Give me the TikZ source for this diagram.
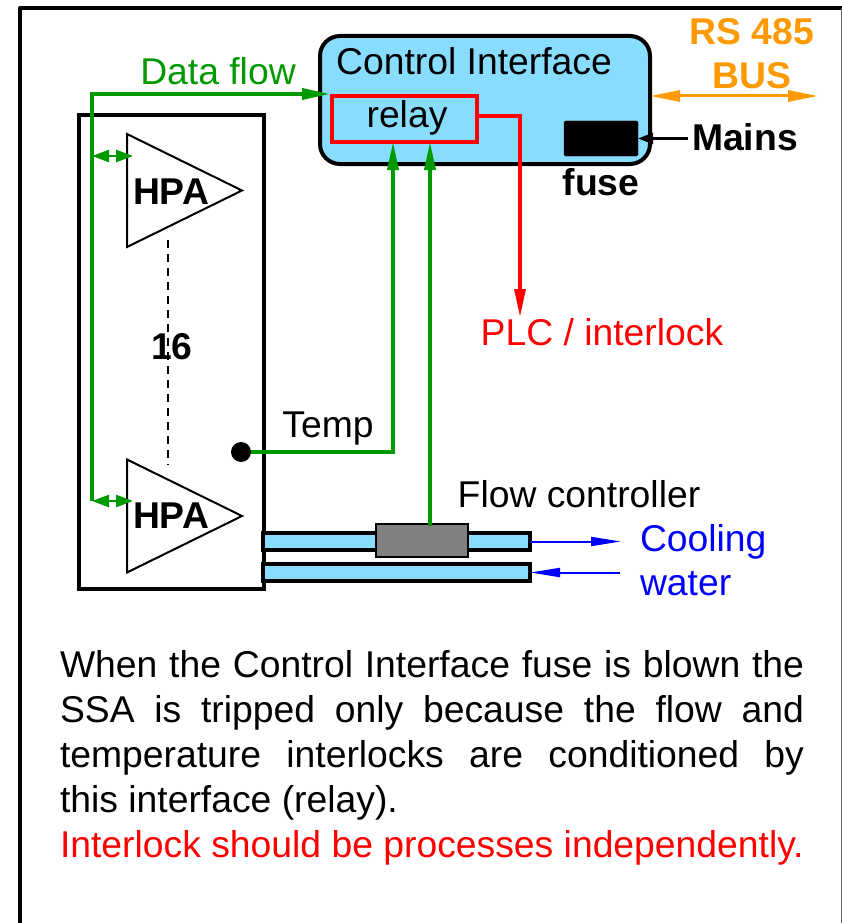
\documentclass[tikz,border=0pt]{standalone}
\usepackage{fontspec}
\setmainfont{Liberation Sans}
\usetikzlibrary{arrows.meta,shapes.geometric}
\definecolor{skyfill}{HTML}{88DDFF}
\definecolor{dgreen}{HTML}{009900}
\definecolor{orng}{HTML}{FF9900}
\definecolor{pipegrey}{HTML}{808080}
\newcommand{\fs}{\fontsize{37.3}{45}\selectfont}
\newcommand{\fsb}{\fontsize{37.3}{45}\selectfont\bfseries}
\newcommand{\jline}[1]{\makebox[744pt][s]{#1}}
\tikzset{
  x=1pt,y=-1pt,
  lbl/.style={inner sep=0pt,outer sep=0pt,anchor=base,font=\fs},
  blbl/.style={lbl,font=\fsb},
  boxn/.style={draw,inner sep=0pt,outer sep=0pt,anchor=north west},
  amp/.style={draw,line width=2pt,fill=white,shape=isosceles triangle,isosceles triangle stretches,
     shape border rotate=0,minimum width=113pt,minimum height=115pt,inner sep=0pt,outer sep=0pt,anchor=lower side},
  gline/.style={draw=dgreen,line width=3.5pt},
  garrow/.style={gline,-{Triangle[length=28pt,width=11pt]}},
  gdouble/.style={draw=dgreen,line width=2.5pt,{Triangle[length=17pt,width=12pt]}-{Triangle[length=17pt,width=12pt]}},
  pipe/.style={boxn,fill=skyfill,line width=4pt,minimum height=17pt},
  barrow/.style={draw=blue,line width=2pt,-{Triangle[length=30pt,width=9pt]}},
}
\begin{document}
\begin{tikzpicture}
\useasboundingbox (0,0) rectangle (842,923);
% outer frame
\draw[line width=4pt,line join=round] (19.5,923) -- (19.5,8.5) -- (842,8.5);
\draw[line width=1.2pt,draw=black!60] (841.4,8) -- (841.4,923);
% HPA housing
\node[boxn,line width=4pt,minimum width=185pt,minimum height=474pt] (rack) at (79,115) {};
\node[amp] (hpaA) at (127,190.5) {};
\node[amp] (hpaB) at (127,516) {};
\node[blbl] (hpaAt) at (171,204) {HPA};
\node[blbl] (hpaBt) at (171,528) {HPA};
% dashed link between amplifiers
\coordinate (dashA) at (168,240);
\coordinate (dashB) at (168,465);
\draw[line width=1.5pt,dash pattern=on 8pt off 6pt] (dashA) -- (dashB);
\node[blbl] (count) at (172,359) {16};
% control interface
\node[boxn,fill=skyfill,line width=4pt,rounded corners=20pt,minimum width=330pt,minimum height=128pt] (ci) at (320,36) {};
\node[lbl] (cit) at (474,75) {Control Interface};
\node[boxn,draw=red,line width=4pt,minimum width=145pt,minimum height=46pt] (relay) at (332,96) {};
\node[lbl] (relayt) at (407,128) {relay};
\node[boxn,fill=black,rounded corners=1.5pt,minimum width=74pt,minimum height=35pt] (fuse) at (564,121) {};
\node[blbl] (fuset) at (601,195) {fuse};
\node[blbl] (mains) at (745,150) {Mains};
% bus
\node[blbl,text=orng] (rs) at (752,45) {RS 485};
\node[blbl,text=orng] (bus) at (752,89) {BUS};
\coordinate (busL) at (650,96);
\coordinate (busR) at (818,96);
\draw[draw=orng,line width=3pt,{Triangle[length=30pt,width=11pt]}-{Triangle[length=30pt,width=11pt]}] (busL) -- (busR);
% mains arrow
\coordinate (mainsEnd) at (688,138.5);
\draw[line width=3pt,-{Triangle[length=15pt,width=11pt]}] (mainsEnd) -- (fuse.east);
% data flow
\node[lbl,text=dgreen] (dataflow) at (218,85) {Data flow};
\coordinate (busBottom) at (92,501);
\coordinate (ciIn) at (330,94);
\draw[garrow] (busBottom) -- (92,94) -- (ciIn);
\coordinate (tapA) at (92,156);
\coordinate (tapAe) at (133,156);
\coordinate (tapB) at (92,501);
\coordinate (tapBe) at (133,501);
\draw[gdouble] (tapA) -- (tapAe);
\draw[gdouble] (tapB) -- (tapBe);
% temperature
\node[circle,fill=black,inner sep=0pt,outer sep=0pt,minimum size=20pt] (sensor) at (241,452) {};
\node[lbl] (temp) at (328,437) {Temp};
\coordinate (relayT) at (393,142);
\draw[garrow] (sensor.east) -- (393,452) -- (relayT);
% pipes
\node[pipe,minimum width=267pt] (pipeA) at (263,533) {};
\node[pipe,minimum width=267pt] (pipeB) at (263,564) {};
\node[boxn,fill=pipegrey,line width=2.5pt,minimum width=92pt,minimum height=33pt] (flowc) at (376,524) {};
\node[lbl] (flowt) at (579,507) {Flow controller};
\coordinate (relayF) at (430,142);
\coordinate (flowTop) at (430,526);
\draw[garrow] (flowTop) -- (relayF);
% plc
\node[lbl,text=red] (plc) at (602,345) {PLC / interlock};
\coordinate (plcIn) at (520,317);
\coordinate (relayOut) at (477,116);
\draw[draw=red,line width=3.5pt,-{Triangle[length=28pt,width=11pt]}] (relayOut) -- (520,116) -- (plcIn);
% cooling
\node[lbl,text=blue,anchor=base west] (cool) at (640,551) {Cooling};
\node[lbl,text=blue,anchor=base west] (water) at (640,595) {water};
\coordinate (coolOut) at (621,541.5);
\coordinate (coolIn) at (620,572.5);
\draw[barrow] (pipeA.east) -- (coolOut);
\draw[barrow] (coolIn) -- (pipeB.east);
% paragraph
\node[inner sep=0pt,outer sep=0pt,anchor=north west,align=left,font=\fs] (para) at (60,650.5)
 {\jline{When the Control Interface fuse is blown the}\\
  \jline{SSA is tripped only because the flow and}\\
  \jline{temperature interlocks are conditioned by}\\
  this interface (relay).\\
  \textcolor{red}{Interlock should be processes independently.}};
\end{tikzpicture}
\end{document}
